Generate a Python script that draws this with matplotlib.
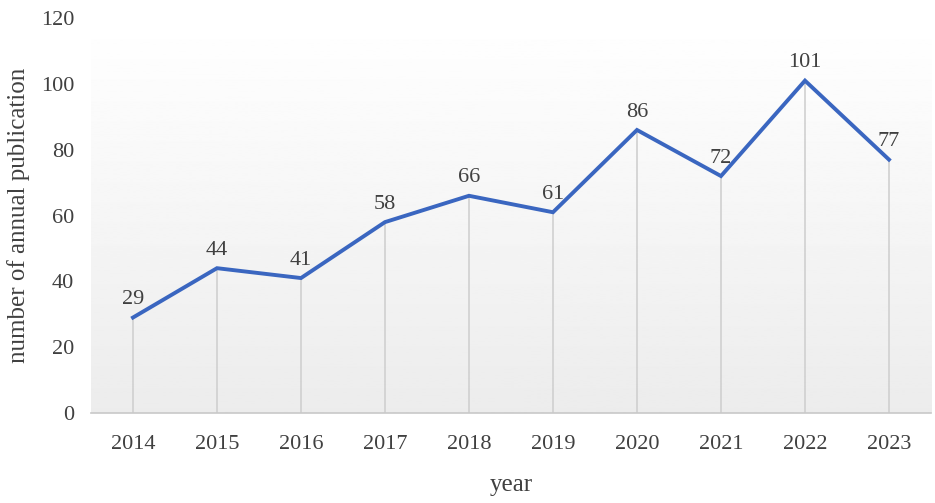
import matplotlib.pyplot as plt
import numpy as np

years = ['2014', '2015', '2016', '2017', '2018', '2019', '2020', '2021', '2022', '2023']
counts = [29, 44, 41, 58, 66, 61, 86, 72, 101, 77]
yticks = [0, 20, 40, 60, 80, 100, 120]

plt.rcParams['font.family'] = ['Liberation Serif', 'DejaVu Serif']
txt = '#404040'

fig = plt.figure(figsize=(9.35, 5.03), dpi=100)
ax = fig.add_axes([0.0973, 0.179, 0.8984, 0.785])

x = np.arange(len(years))

# background gradient: white at top, light gray at bottom
grad = np.linspace(1.0, 0.925, 256).reshape(-1, 1)
ax.imshow(grad, cmap='gray', vmin=0, vmax=1, aspect='auto', origin='upper',
          extent=[0, 1, 0, 1], transform=ax.transAxes, zorder=0)

ax.vlines(x, 0, counts, color='#d0d0d0', linewidth=1.2, zorder=1)
ax.plot(x, counts, color='#3a66c0', linewidth=2.8, solid_joinstyle='miter', zorder=3)

for xi, c in zip(x, counts):
    ax.annotate(str(c), (xi, c), xytext=(0, 6), textcoords='offset points',
                ha='center', va='bottom', fontsize=16, color=txt)

ax.set_xlim(-0.5, len(years) - 0.5)
ax.set_ylim(0, 120)
ax.set_xticks(x)
ax.set_xticklabels(years)
ax.set_yticks(yticks)
ax.tick_params(axis='both', length=0, labelsize=16, labelcolor=txt)
ax.tick_params(axis='x', pad=16)
ax.tick_params(axis='y', pad=12)

for s in ['top', 'right', 'left']:
    ax.spines[s].set_visible(False)
ax.spines['bottom'].set_color('#c8c8c8')
ax.spines['bottom'].set_linewidth(1.2)

ax.set_xlabel('year', fontsize=18, color=txt, labelpad=14)
ax.set_ylabel('number of annual publication', fontsize=18, color=txt, labelpad=8)

fig.savefig('out.png', dpi=100)
